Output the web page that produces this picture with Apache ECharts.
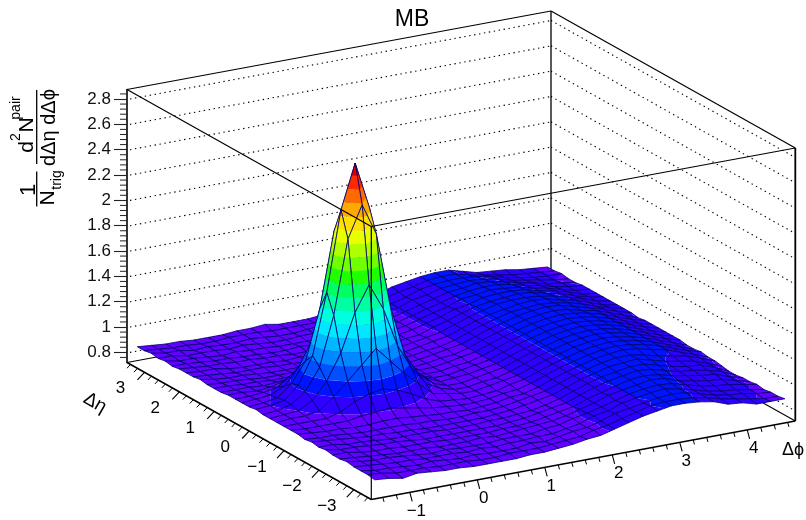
<!DOCTYPE html>
<html>
<head>
<meta charset="utf-8">
<style>html,body{margin:0;padding:0;background:#fff}#c{width:806px;height:520px}</style>
<script src="https://cdn.jsdelivr.net/npm/echarts@6/dist/echarts.min.js"></script>
</head>
<body>
<div id="c"></div>
<script>
// ---- data ----
const phiNodes = [-1.47,-1.26,-1.05,-0.84,-0.63,-0.42,-0.21,0,0.21,0.42,0.63,0.84,1.05,1.26,1.47,1.68,1.88,2.09,2.30,2.51,2.72,2.93,3.14,3.35,3.56,3.77,3.98,4.19,4.40,4.61];
const etaNodes = [-3.4,-3.2,-3.0,-2.8,-2.6,-2.4,-2.2,-2.0,-1.8,-1.6,-1.4,-1.2,-1.0,-0.8,-0.6,-0.4,-0.2,0,0.2,0.4,0.6,0.8,1.0,1.2,1.4,1.6,1.8,2.0,2.2,2.4,2.6,2.8,3.0,3.2,3.4];
// one row per eta node, one value per phi node
const surface = [
[.85,.84,.82,.84,.83,.82,.82,.81,.81,.81,.81,.82,.82,.83,.84,.86,.87,.90,.93,.96,.98,1.00,1.00,.99,.97,.93,.92,.89,.89,.89],
[.86,.85,.83,.83,.83,.82,.82,.82,.81,.81,.82,.82,.82,.83,.84,.85,.88,.90,.93,.96,.99,1.00,1.00,.99,.97,.94,.92,.90,.88,.88],
[.86,.84,.84,.83,.82,.83,.82,.81,.82,.81,.81,.81,.83,.82,.84,.86,.87,.90,.94,.96,.98,1.00,1.01,1.00,.97,.94,.92,.91,.89,.88],
[.86,.85,.84,.83,.83,.82,.82,.82,.81,.82,.81,.82,.82,.83,.83,.85,.87,.91,.93,.97,.99,1.01,1.02,1.00,.97,.94,.92,.91,.89,.87],
[.87,.85,.84,.84,.83,.82,.81,.82,.81,.81,.81,.82,.82,.82,.84,.85,.88,.90,.93,.96,.99,1.01,1.02,1.01,.98,.95,.93,.92,.90,.88],
[.86,.85,.84,.83,.82,.82,.82,.81,.81,.81,.82,.81,.82,.83,.84,.85,.87,.90,.93,.97,.99,1.01,1.03,1.02,.98,.96,.94,.93,.90,.87],
[.86,.86,.84,.83,.83,.82,.82,.82,.81,.81,.81,.81,.82,.82,.83,.85,.87,.89,.93,.96,.99,1.02,1.03,1.02,.99,.97,.95,.94,.90,.87],
[.87,.85,.85,.84,.83,.83,.82,.81,.81,.81,.81,.81,.81,.82,.83,.85,.87,.89,.93,.97,1.00,1.02,1.04,1.03,1.00,.97,.96,.94,.91,.86],
[.86,.86,.84,.84,.83,.82,.82,.82,.82,.81,.81,.81,.82,.82,.83,.84,.86,.89,.93,.97,1.00,1.02,1.04,1.04,1.01,.98,.96,.95,.91,.86],
[.87,.86,.85,.84,.83,.83,.82,.82,.81,.81,.81,.81,.81,.82,.83,.85,.87,.89,.93,.97,1.00,1.03,1.04,1.05,1.02,.99,.97,.95,.91,.87],
[.86,.85,.85,.84,.83,.83,.83,.83,.82,.82,.81,.81,.82,.82,.83,.85,.87,.89,.93,.97,1.00,1.03,1.05,1.05,1.03,1.00,.98,.96,.92,.88],
[.87,.86,.85,.85,.84,.84,.85,.85,.84,.83,.82,.82,.81,.82,.83,.85,.86,.89,.93,.97,1.00,1.03,1.05,1.06,1.05,1.02,1.00,.96,.92,.88],
[.87,.86,.86,.86,.86,.88,.89,.90,.88,.86,.84,.83,.82,.82,.83,.85,.86,.89,.93,.97,1.00,1.03,1.05,1.06,1.05,1.03,1.00,.96,.92,.89],
[.87,.87,.87,.87,.90,.96,1.00,1.02,.99,.94,.88,.84,.83,.82,.83,.84,.87,.89,.93,.97,1.00,1.03,1.05,1.06,1.05,1.03,1.00,.96,.92,.88],
[.87,.88,.88,.90,.99,1.09,1.20,1.31,1.19,1.07,.97,.87,.85,.83,.83,.85,.87,.89,.93,.97,1.00,1.03,1.05,1.06,1.05,1.03,1.00,.96,.92,.88],
[.87,.88,.89,.95,1.08,1.28,1.58,1.78,1.57,1.26,1.06,.92,.86,.83,.83,.85,.86,.89,.93,.97,1.00,1.03,1.05,1.06,1.05,1.03,1.00,.96,.92,.89],
[.87,.88,.91,.99,1.16,1.55,2.13,2.38,2.13,1.53,1.14,.96,.87,.83,.83,.85,.87,.89,.93,.97,1.00,1.03,1.05,1.06,1.05,1.03,1.00,.96,.92,.89],
[.88,.89,.91,1.01,1.22,1.70,2.33,2.68,2.31,1.69,1.20,.98,.88,.83,.84,.85,.87,.89,.93,.97,1.00,1.03,1.05,1.06,1.05,1.03,1.00,.96,.92,.89],
[.87,.88,.90,.99,1.15,1.54,2.13,2.37,2.12,1.52,1.13,.96,.87,.83,.83,.85,.87,.89,.93,.97,1.00,1.03,1.05,1.06,1.05,1.03,1.00,.96,.92,.89],
[.87,.88,.89,.94,1.07,1.27,1.57,1.76,1.56,1.25,1.05,.92,.85,.83,.83,.85,.86,.89,.93,.97,1.00,1.03,1.05,1.06,1.05,1.03,1.00,.96,.92,.89],
[.87,.87,.88,.90,.98,1.08,1.19,1.29,1.18,1.06,.97,.87,.84,.83,.83,.85,.87,.89,.93,.97,1.00,1.03,1.05,1.06,1.05,1.03,1.00,.96,.92,.89],
[.87,.87,.86,.87,.90,.95,.99,1.02,.98,.94,.88,.84,.83,.82,.83,.85,.86,.89,.93,.97,1.00,1.03,1.05,1.06,1.05,1.02,1.00,.96,.92,.88],
[.86,.86,.86,.85,.86,.87,.89,.89,.88,.86,.84,.83,.82,.82,.83,.85,.87,.89,.93,.97,1.00,1.03,1.05,1.06,1.05,1.02,.99,.96,.92,.89],
[.86,.86,.85,.85,.84,.84,.85,.85,.84,.83,.82,.82,.82,.82,.83,.85,.86,.89,.93,.97,1.00,1.03,1.04,1.05,1.04,1.02,.99,.95,.92,.89],
[.86,.85,.85,.84,.83,.83,.83,.83,.82,.82,.81,.82,.81,.82,.83,.85,.87,.89,.93,.97,1.00,1.02,1.04,1.05,1.04,1.01,.99,.95,.91,.89],
[.87,.85,.84,.84,.83,.82,.82,.82,.81,.81,.81,.81,.82,.82,.83,.85,.87,.89,.93,.97,1.00,1.03,1.04,1.04,1.03,1.01,.98,.95,.91,.89],
[.86,.85,.84,.83,.83,.83,.82,.82,.81,.82,.81,.81,.81,.82,.83,.85,.86,.90,.93,.97,1.00,1.02,1.03,1.04,1.03,1.00,.98,.94,.91,.89],
[.86,.85,.85,.83,.82,.82,.82,.81,.82,.81,.81,.82,.82,.82,.84,.85,.87,.90,.93,.97,.99,1.02,1.03,1.03,1.02,.99,.97,.94,.90,.89],
[.86,.85,.84,.84,.83,.83,.82,.82,.81,.81,.81,.81,.82,.83,.83,.85,.87,.90,.93,.96,1.00,1.01,1.03,1.02,1.01,.98,.96,.93,.90,.89],
[.85,.85,.84,.83,.83,.82,.82,.81,.81,.82,.81,.82,.82,.82,.84,.85,.87,.90,.93,.96,.99,1.01,1.02,1.02,1.00,.97,.95,.92,.90,.89],
[.86,.84,.84,.83,.82,.83,.82,.82,.81,.81,.81,.81,.82,.83,.84,.86,.87,.90,.93,.96,.99,1.00,1.02,1.01,.99,.96,.94,.91,.90,.88],
[.85,.85,.83,.83,.83,.82,.83,.82,.81,.81,.82,.82,.82,.83,.84,.85,.88,.90,.94,.96,.99,1.00,1.01,1.00,.98,.95,.93,.91,.89,.88],
[.86,.84,.84,.82,.83,.82,.82,.83,.82,.81,.81,.82,.83,.82,.84,.86,.87,.90,.93,.97,.99,1.00,1.00,.99,.97,.94,.92,.90,.89,.89],
[.85,.84,.83,.83,.82,.82,.83,.83,.83,.82,.82,.82,.82,.83,.85,.86,.88,.91,.94,.96,.99,1.00,1.00,.97,.95,.93,.91,.90,.89,.88],
[.85,.84,.83,.83,.82,.82,.82,.83,.83,.84,.82,.82,.82,.83,.85,.86,.88,.91,.95,.97,.99,1.00,1.00,.97,.94,.93,.92,.90,.89,.88]
];
const zTicks = [0.8,1,1.2,1.4,1.6,1.8,2,2.2,2.4,2.6,2.8];
const zMinorTicks = [0.76,0.84,0.88,0.92,0.96,1.04,1.08,1.12,1.16,1.24,1.28,1.32,1.36,1.44,1.48,1.52,1.56,1.64,1.68,1.72,1.76,1.84,1.88,1.92,1.96,2.04,2.08,2.12,2.16,2.24,2.28,2.32,2.36,2.44,2.48,2.52,2.56,2.64,2.68,2.72,2.76,2.84];
const phiTicks = [-1,0,1,2,3,4];
const phiMinor = [-1.4,-1.2,-0.8,-0.6,-0.4,-0.2,0.2,0.4,0.6,0.8,1.2,1.4,1.6,1.8,2.2,2.4,2.6,2.8,3.2,3.4,3.6,3.8,4.2,4.4,4.6];
const etaTicks = [-3,-2,-1,0,1,2,3];
const etaMinor = [-3.4,-3.2,-2.8,-2.6,-2.4,-2.2,-1.8,-1.6,-1.4,-1.2,-0.8,-0.6,-0.4,-0.2,0.2,0.4,0.6,0.8,1.2,1.4,1.6,1.8,2.2,2.4,2.6,2.8,3.2,3.4];
const bandLevels = [.79,.89,.99,1.09,1.19,1.29,1.39,1.49,1.59,1.69,1.79,1.89,1.99,2.09,2.19,2.29,2.39,2.49,2.59];
const bandColors = ['#6400ff','#3000ff','#0014ff','#0050ff','#0088ff','#00b8ff','#00e8ff','#00ffe0','#00ffa0','#00ff60','#20ff00','#70ff00','#b0ff00','#e8ff00','#ffe000','#ffaa00','#ff6a00','#ff2a00','#dd0000'];

// ---- view settings ----
const PHI_MIN=-Math.PI/2, PHI_MAX=3*Math.PI/2, ETA_MIN=-3.5, ETA_MAX=3.5, Z_MIN=0.72, Z_MAX=2.875;
const PX_PER_Z=273/(Z_MAX-Z_MIN);
const FONT='"Liberation Sans",Arial,sans-serif';

function P(api,phi,eta,z){
  const p=(phi-PHI_MIN)/(PHI_MAX-PHI_MIN), q=(eta-ETA_MIN)/(ETA_MAX-ETA_MIN);
  const vx=371.3+424*p-244.3*q;
  const zEff=z+(78.5*p+137*q-137)/PX_PER_Z;
  return api.coord([vx,zEff]);
}
function line(a,b,w,color,dash){
  return {type:'line',silent:true,shape:{x1:a[0],y1:a[1],x2:b[0],y2:b[1]},
    style:{stroke:color||'#000',lineWidth:w,lineDash:dash||null,fill:null}};
}
function text(x,y,s,size,rot,opt){
  opt=opt||{};
  return {type:'text',silent:true,x:x,y:y,rotation:rot||0,
    style:Object.assign({text:s,fontFamily:FONT,fontSize:size,fill:'#000',align:'center',verticalAlign:'middle'},opt)};
}
function clip(poly,level,keepAbove){
  const out=[];
  for(let n=0;n<poly.length;n++){
    const a=poly[n], b=poly[(n+1)%poly.length];
    const ia=keepAbove? a[2]>=level : a[2]<=level;
    const ib=keepAbove? b[2]>=level : b[2]<=level;
    if(ia) out.push(a);
    if(ia!==ib){
      const t=(level-a[2])/(b[2]-a[2]);
      out.push([a[0]+t*(b[0]-a[0]),a[1]+t*(b[1]-a[1]),level]);
    }
  }
  return out;
}
function renderCell(params,api){
  const i=api.value(0), j=api.value(1);
  const corners=[[i,j],[i+1,j],[i+1,j+1],[i,j+1]].map(c=>[phiNodes[c[0]],etaNodes[c[1]],surface[c[1]][c[0]]]);
  const children=[];
  for(let k=0;k<bandLevels.length;k++){
    const lo=k===0?-1e9:bandLevels[k], hi=k===bandLevels.length-1?1e9:bandLevels[k+1];
    let poly=clip(corners,lo,true);
    if(poly.length<3) continue;
    poly=clip(poly,hi,false);
    if(poly.length<3) continue;
    children.push({type:'polygon',silent:true,shape:{points:poly.map(c=>P(api,c[0],c[1],c[2]))},
      style:{fill:bandColors[k]}});
  }
  children.push({type:'polygon',silent:true,shape:{points:corners.map(c=>P(api,c[0],c[1],c[2]))},
    style:{fill:null,stroke:'#000070',lineWidth:0.8}});
  return {type:'group',children:children};
}
function renderBack(params,api){
  const ch=[];
  zTicks.forEach(z=>{
    const a=P(api,PHI_MIN,ETA_MAX,z), b=P(api,PHI_MAX,ETA_MAX,z), c=P(api,PHI_MAX,ETA_MIN,z);
    ch.push(line([a[0]+3,a[1]],b,1.1,'#000',[1.4,3.6]));
    ch.push(line(b,c,1.1,'#000',[1.4,3.6]));
  });
  const bl=P(api,PHI_MIN,ETA_MAX,Z_MIN), bb=P(api,PHI_MAX,ETA_MAX,Z_MIN), br=P(api,PHI_MAX,ETA_MIN,Z_MIN), bt=P(api,PHI_MAX,ETA_MAX,Z_MAX);
  ch.push(line(bl,bb,1.1),line(bb,br,1.1),line(bb,bt,1.3));
  return {type:'group',children:ch};
}
function renderFront(params,api){
  const ch=[];
  const f0=P(api,PHI_MIN,ETA_MIN,Z_MIN), f1=P(api,PHI_MIN,ETA_MIN,Z_MAX);
  const l0=P(api,PHI_MIN,ETA_MAX,Z_MIN), l1=P(api,PHI_MIN,ETA_MAX,Z_MAX);
  const r0=P(api,PHI_MAX,ETA_MIN,Z_MIN), r1=P(api,PHI_MAX,ETA_MIN,Z_MAX);
  const b1=P(api,PHI_MAX,ETA_MAX,Z_MAX);
  ch.push(line(l1,b1,1.2),line(b1,r1,1.2),line(r1,f1,1.2),line(f1,l1,1.2),line(f0,f1,1.2),line(r0,r1,1.8));
  ch.push(line(l0,f0,1.5),line(f0,r0,1.5));
  // minor z ticks
  zMinorTicks.forEach(z=>{const a=P(api,PHI_MIN,ETA_MAX,z);ch.push(line(a,[a[0]-7,a[1]],1,'#222'));});
  // phi axis
  phiTicks.forEach(v=>{
    const a=P(api,v,ETA_MIN,Z_MIN);
    ch.push(line(a,[a[0]+2.4,a[1]+9],1.1));
    ch.push(text(a[0]+6.5,a[1]+18.5,v<0?'\u2212'+(-v):String(v),17));
  });
  phiMinor.forEach(v=>{const a=P(api,v,ETA_MIN,Z_MIN);ch.push(line(a,[a[0]+1.2,a[1]+4.5],1));});
  // eta axis
  etaTicks.forEach(v=>{
    const a=P(api,PHI_MIN,v,Z_MIN);
    ch.push(line(a,[a[0]-7,a[1]+7.5],1.1));
    ch.push(text(a[0]+(v<0?-27:-24),a[1]+16.5,v<0?'\u2212'+(-v):String(v),17));
  });
  etaMinor.forEach(v=>{const a=P(api,PHI_MIN,v,Z_MIN);ch.push(line(a,[a[0]-3.5,a[1]+3.8],1));});
  // axis names
  ch.push(text(793,450,'\u0394\u03d5',18));
  ch.push(text(95,403,'\u0394\u03b7',19,-Math.PI/6));
  // z axis title (rotated fraction)
  const R=Math.PI/2;
  ch.push(text(28.5,190,'1',22,R));
  ch.push(line([36.7,171.5],[36.7,206.5],1.3));
  ch.push(text(48,198,'N',21,R));
  ch.push(text(57.5,180,'trig',14,R));
  ch.push(text(27.5,147,'d',21,R));
  ch.push(text(16.5,137,'2',14,R));
  ch.push(text(27.5,125,'N',21,R));
  ch.push(text(16.5,108,'pair',14,R));
  ch.push(line([36.7,90],[36.7,164],1.3));
  ch.push(text(49.5,127.5,'d\u0394\u03b7 d\u0394\u03d5',20,R));
  return {type:'group',children:ch};
}

const cells=[];
for(let j=etaNodes.length-2;j>=0;j--) for(let i=phiNodes.length-2;i>=0;i--) cells.push([i,j]);

const chart=echarts.init(document.getElementById('c'),null,{renderer:'canvas',width:806,height:520});
chart.setOption({
  animation:false,
  backgroundColor:'#fff',
  title:{text:'MB',left:412,top:8,textAlign:'center',padding:0,textStyle:{fontFamily:FONT,fontSize:23,fontWeight:'normal',color:'#000'}},
  grid:{left:127,top:89.5,width:668,height:273,outerBoundsMode:'none'},
  xAxis:{type:'value',min:127,max:795,show:false},
  yAxis:{type:'value',min:Z_MIN,max:Z_MAX,position:'left',scale:true,
    axisLine:{show:true,onZero:false,lineStyle:{color:'#000',width:1.6}},
    axisTick:{show:true,length:13,inside:false,customValues:zTicks,lineStyle:{color:'#222',width:1.1}},
    axisLabel:{show:true,margin:16,customValues:zTicks,fontFamily:FONT,fontSize:17,color:'#111'},
    splitLine:{show:false},minorTick:{show:false}},
  series:[
    {type:'custom',z:2,silent:true,clip:false,renderItem:renderBack,data:[[0,0]]},
    {type:'custom',z:3,silent:true,clip:false,progressive:0,renderItem:renderCell,data:cells},
    {type:'custom',z:4,silent:true,clip:false,renderItem:renderFront,data:[[0,0]]}
  ]
});
</script>
</body>
</html>
